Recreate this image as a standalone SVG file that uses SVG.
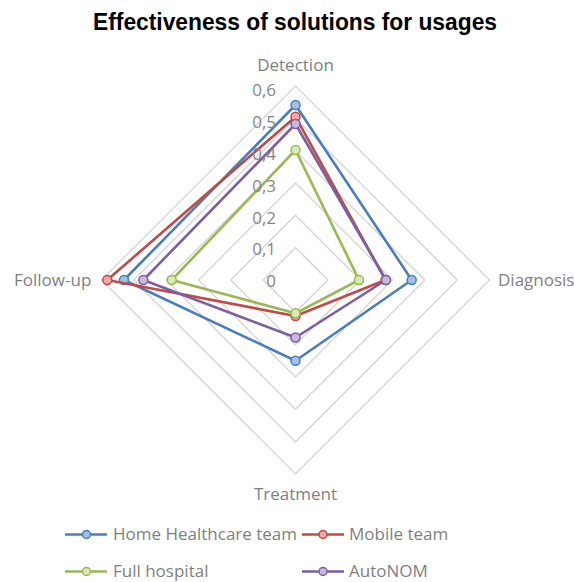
<svg xmlns="http://www.w3.org/2000/svg" width="574" height="582" viewBox="0 0 574 582">
<style>
.grid{fill:none;stroke:#d6d6d6;stroke-width:1.4}
.lbl{font-family:"Open Sans","Liberation Sans",sans-serif;font-size:17px;fill:#7f7f7f}
.tick{font-family:"Open Sans","Liberation Sans",sans-serif;font-size:17px;fill:#868686;text-anchor:end;dominant-baseline:central}
.ser{fill:none;stroke-width:2.6;stroke-linejoin:round}
.title{font-family:"Liberation Sans",Arial,sans-serif;font-weight:bold;font-size:23px;fill:#000}
.blue{stroke:#4a7ebb}.blueF{fill:#a4c0e8;stroke:#4a7ebb;stroke-width:1.5}
.red{stroke:#be4b48}.redF{fill:#f2a8a6;stroke:#be4b48;stroke-width:1.5}
.green{stroke:#98b954}.greenF{fill:#d9ebb5;stroke:#98b954;stroke-width:1.5}
.purple{stroke:#7d5fa0}.purpleF{fill:#c9b8de;stroke:#7d5fa0;stroke-width:1.5}
</style>
<rect width="574" height="582" fill="#fff"/>
<text class="title" x="295" y="30" text-anchor="middle" textLength="404" lengthAdjust="spacingAndGlyphs">Effectiveness of solutions for usages</text>
<g id="grid">
<polygon class="grid" points="295.5,247.7 327.8,280 295.5,312.3 263.2,280"/>
<polygon class="grid" points="295.5,215.3 360.2,280 295.5,344.7 230.8,280"/>
<polygon class="grid" points="295.5,183 392.5,280 295.5,377 198.5,280"/>
<polygon class="grid" points="295.5,150.7 424.8,280 295.5,409.3 166.2,280"/>
<polygon class="grid" points="295.5,118.3 457.2,280 295.5,441.7 133.8,280"/>
<polygon class="grid" points="295.5,86 489.5,280 295.5,474 101.5,280"/>
</g>
<g id="connectors">
<g id="series-home-healthcare">
<polygon class="ser blue" points="295.5,105 411.7,280 295.5,360.7 124,280"/>
<circle class="blueF" cx="295.5" cy="105" r="4.5"/><circle class="blueF" cx="411.7" cy="280" r="4.5"/><circle class="blueF" cx="295.5" cy="360.7" r="4.5"/><circle class="blueF" cx="124" cy="280" r="4.5"/>
</g>
<g id="series-mobile-team">
<polygon class="ser red" points="295.5,116.7 385.5,280 295.5,316 107.3,280"/>
<circle class="redF" cx="295.5" cy="116.7" r="4.5"/><circle class="redF" cx="385.5" cy="280" r="4.5"/><circle class="redF" cx="295.5" cy="316" r="4.5"/><circle class="redF" cx="107.3" cy="280" r="4.5"/>
</g>
<g id="series-full-hospital">
<polygon class="ser green" points="295.5,150 359,280 295.5,313.3 171.7,280"/>
<circle class="greenF" cx="295.5" cy="150" r="4.5"/><circle class="greenF" cx="359" cy="280" r="4.5"/><circle class="greenF" cx="295.5" cy="313.3" r="4.5"/><circle class="greenF" cx="171.7" cy="280" r="4.5"/>
</g>
<g id="series-autonom">
<polygon class="ser purple" points="295.5,124 386,280 295.5,337.5 143.3,280"/>
<circle class="purpleF" cx="295.5" cy="124" r="4.5"/><circle class="purpleF" cx="386" cy="280" r="4.5"/><circle class="purpleF" cx="295.5" cy="337.5" r="4.5"/><circle class="purpleF" cx="143.3" cy="280" r="4.5"/>
</g>
</g>
<g id="ticks">
<text class="tick" x="276" y="89">0,6</text>
<text class="tick" x="276" y="121">0,5</text>
<text class="tick" x="276" y="153">0,4</text>
<text class="tick" x="276" y="185">0,3</text>
<text class="tick" x="276" y="217">0,2</text>
<text class="tick" x="276" y="248">0,1</text>
<text class="tick" x="276" y="280">0</text>
</g>
<g id="node-detection"><text class="lbl" x="295.5" y="71" text-anchor="middle">Detection</text></g>
<g id="node-diagnosis"><text class="lbl" x="498" y="286">Diagnosis</text></g>
<g id="node-treatment"><text class="lbl" x="295.5" y="500" text-anchor="middle">Treatment</text></g>
<g id="node-followup"><text class="lbl" x="14" y="286">Follow-up</text></g>
<g id="legend">
<line class="ser blue" x1="65" y1="534.5" x2="107" y2="534.5"/><circle class="blueF" cx="86.5" cy="534.5" r="4"/>
<text class="lbl" x="113" y="540">Home Healthcare team</text>
<line class="ser red" x1="302" y1="534.5" x2="344" y2="534.5"/><circle class="redF" cx="323" cy="534.5" r="4"/>
<text class="lbl" x="349" y="540">Mobile team</text>
<line class="ser green" x1="65" y1="571.5" x2="107" y2="571.5"/><circle class="greenF" cx="86.5" cy="571.5" r="4"/>
<text class="lbl" x="113" y="577">Full hospital</text>
<line class="ser purple" x1="302" y1="571.5" x2="344" y2="571.5"/><circle class="purpleF" cx="323" cy="571.5" r="4"/>
<text class="lbl" x="349" y="577">AutoNOM</text>
</g>
</svg>
